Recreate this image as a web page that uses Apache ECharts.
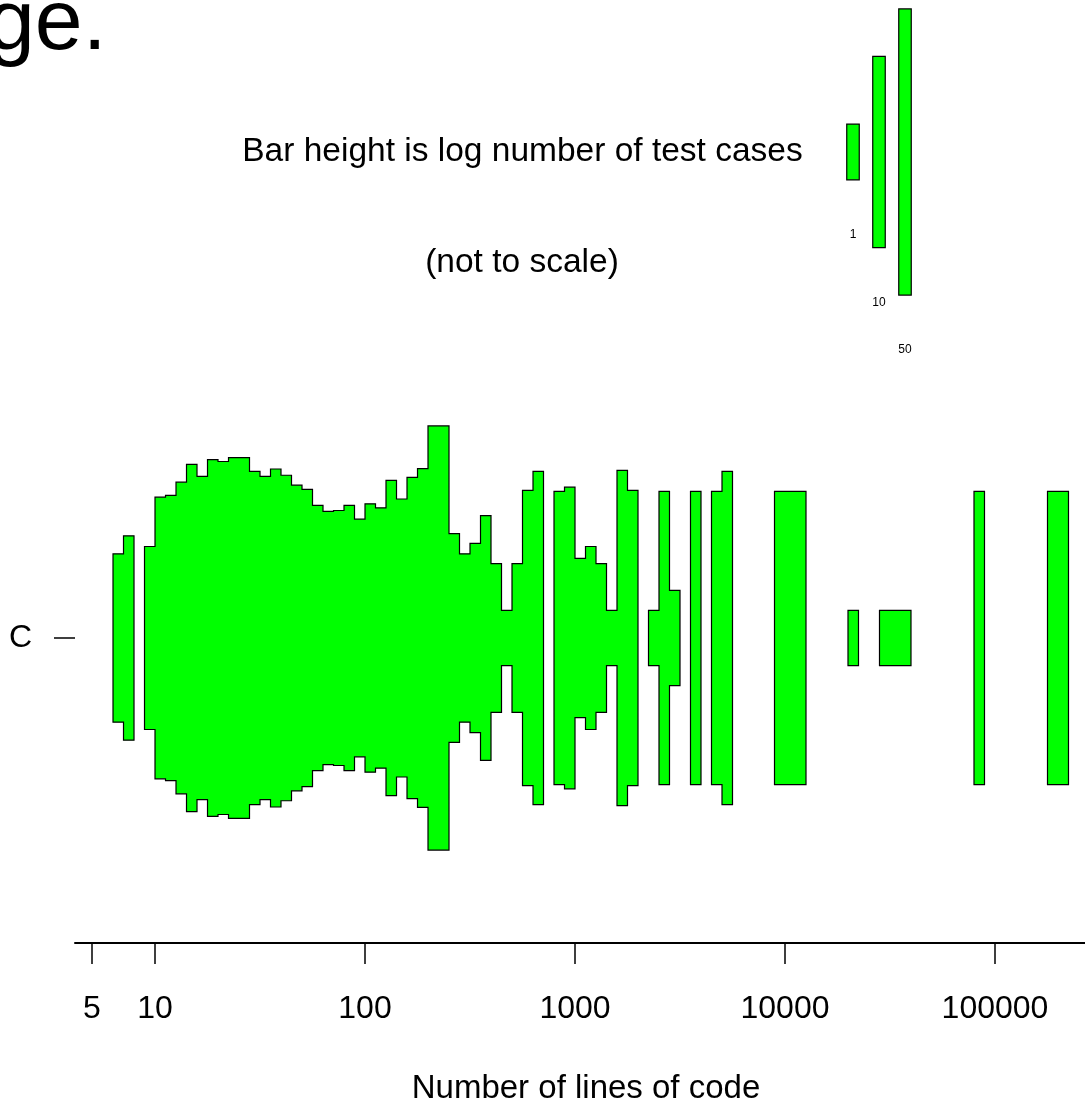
<!DOCTYPE html>
<html>
<head>
<meta charset="utf-8">
<script src="https://cdn.jsdelivr.net/npm/echarts@6/dist/echarts.min.js"></script>
<style>
html,body{margin:0;padding:0;background:#fff;}
#chart{width:1085px;height:1110px;}
</style>
</head>
<body>
<div id="chart"></div>
<script>
// ---- data ----
const categories = ['C'];
// lower edge of each non-empty bin, log10(lines of code); bins are 0.05 decades wide
const binLog = [0.80,0.85,0.95,1.00,1.05,1.10,1.15,1.20,1.25,1.30,1.35,1.40,1.45,1.50,1.55,1.60,1.65,1.70,1.75,1.80,1.85,1.90,1.95,2.00,2.05,2.10,2.15,2.20,2.25,2.30,2.35,2.40,2.45,2.50,2.55,2.60,2.65,2.70,2.75,2.80,2.90,2.95,3.00,3.05,3.10,3.15,3.20,3.25,3.35,3.40,3.45,3.55,3.65,3.70,3.95,4.00,4.05,4.30,4.45,4.50,4.55,4.90,5.25,5.30];
// number of test cases in each bin
const testCases = [7,13,9,49,52,82,151,100,178,167,191,191,119,100,129,104,74,64,37,30,31,37,23,39,34,87,46,97,131,566,566,14,7,10,26,5,1,5,62,119,60,69,6,9,5,1,123,62,1,60,2,60,60,119,60,60,60,1,1,1,1,60,60,60];
const tickValues = [5,10,100,1000,10000,100000];
const tickLabels = ['5','10','100','1000','10000','100000'];
const legendCounts = [1,10,50];
const legendLabels = ['1','10','50'];

// ---- rendering helpers ----
const BIN = 0.05;
const FONT = '"Liberation Sans", Arial, Helvetica, sans-serif';
const GREEN = '#00ff00';
function halfH(n){ return (55.7 + 135.6*Math.log10(n))/2; }

// group contiguous bins into runs (one outlined shape per run)
const runs = [];
binLog.forEach((b,i)=>{
  if (i>0 && Math.abs(b - binLog[i-1] - BIN) < 1e-6) runs[runs.length-1].push(i);
  else runs.push([i]);
});

const chart = echarts.init(document.getElementById('chart'), null, {renderer:'canvas'});
const option = {
  animation:false,
  backgroundColor:'#fff',
  grid:[
    {left:75, right:0, top:333, bottom:160},
    {left:840, width:78, top:2, height:300}
  ],
  xAxis:[
    {
      type:'value', gridIndex:0, min:0.619, max:5.4286,
      axisLine:{show:true, onZero:false, lineStyle:{color:'#000', width:2}},
      axisTick:{show:true, length:21, customValues: tickValues.map(v=>Math.log10(v)), lineStyle:{color:'#000', width:1.5}},
      axisLabel:{show:true, customValues: tickValues.map(v=>Math.log10(v)), margin:50,
        formatter:(v)=>{ const k = tickValues.findIndex(t=>Math.abs(Math.log10(t)-v)<1e-6); return k>=0?tickLabels[k]:''; },
        color:'#000', fontSize:32, fontFamily:FONT},
      splitLine:{show:false},
      name:'Number of lines of code', nameLocation:'middle', nameGap:129,
      nameTextStyle:{color:'#000', fontSize:33, fontFamily:FONT, padding:[0,0,0,12]}
    },
    {
      type:'category', gridIndex:1, data:legendLabels, show:false
    }
  ],
  yAxis:[
    {
      type:'value', gridIndex:0, min:-308.5, max:308.5,
      axisLine:{show:false, onZero:false},
      axisTick:{show:true, length:21, customValues:[0], lineStyle:{color:'#000', width:1.5}},
      axisLabel:{show:true, customValues:[0], margin:43, formatter:()=>categories[0],
        color:'#000', fontSize:32, fontFamily:FONT, padding:[14,0,0,0]},
      splitLine:{show:false}
    },
    {
      type:'value', gridIndex:1, min:-150, max:150, show:false
    }
  ],
  series:[
    {
      type:'custom', xAxisIndex:0, yAxisIndex:0,
      data: runs.map(r=>[binLog[r[0]], 0]),
      encode:{x:0, y:1},
      renderItem:(params, api)=>{
        const run = runs[params.dataIndex];
        const top = [], bottom = [];
        run.forEach(i=>{
          const x0 = binLog[i], x1 = x0 + BIN, h = halfH(testCases[i]);
          top.push(api.coord([x0, h]), api.coord([x1, h]));
        });
        for (let k = run.length-1; k>=0; k--){
          const i = run[k]; const x0 = binLog[i], x1 = x0 + BIN, h = halfH(testCases[i]);
          bottom.push(api.coord([x1, -h]), api.coord([x0, -h]));
        }
        return {type:'polygon', shape:{points: top.concat(bottom)},
          style:{fill:GREEN, stroke:'#000', lineWidth:1.2}};
      }
    },
    {
      type:'custom', xAxisIndex:1, yAxisIndex:1,
      data: legendCounts.map((n,i)=>[i, 0]),
      encode:{x:0, y:1},
      renderItem:(params, api)=>{
        const n = legendCounts[params.dataIndex];
        const h = halfH(n);
        const p0 = api.coord([params.dataIndex, h]);
        const p1 = api.coord([params.dataIndex, -h]);
        const w = 12.5;
        return {type:'group', children:[
          {type:'rect', shape:{x:p0[0]-w/2, y:p0[1], width:w, height:p1[1]-p0[1]},
            style:{fill:GREEN, stroke:'#000', lineWidth:1.2}},
          {type:'text', style:{text:legendLabels[params.dataIndex], x:p0[0], y:p1[1]+55,
            align:'center', verticalAlign:'middle', fontSize:12, fontFamily:FONT, fill:'#000'}}
        ]};
      }
    }
  ],
  graphic:[
    {type:'text', left:-13, top:-18, style:{text:'ge.', fontSize:86, fontFamily:FONT, fill:'#000'}},
    {type:'text', x:522.5, y:152, style:{text:'Bar height is log number of test cases', fontSize:33.5, fontFamily:FONT, fill:'#000', align:'center', verticalAlign:'middle'}},
    {type:'text', x:522, y:263, style:{text:'(not to scale)', fontSize:33.5, fontFamily:FONT, fill:'#000', align:'center', verticalAlign:'middle'}}
  ]
};
chart.setOption(option);
</script>
</body>
</html>
